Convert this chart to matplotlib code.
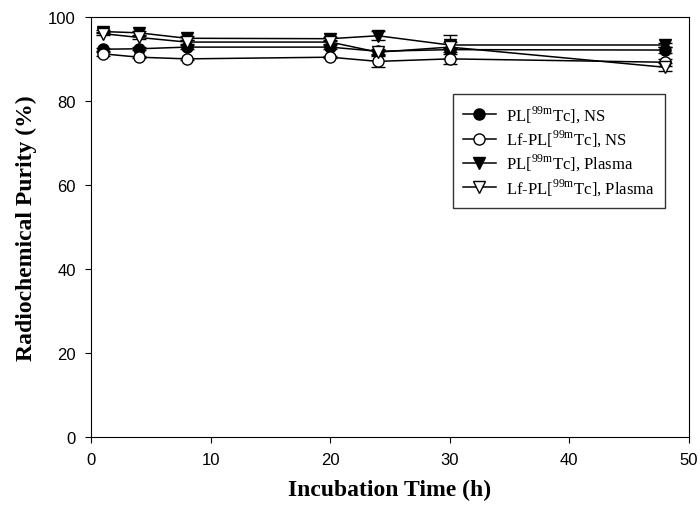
import matplotlib
matplotlib.use("Agg")
import matplotlib.pyplot as plt

plt.rcParams['mathtext.fontset'] = 'custom'
plt.rcParams['mathtext.rm'] = 'Liberation Serif'

time_h = [1, 4, 8, 20, 24, 30, 48]

pl_ns = [92.3, 92.4, 92.8, 92.8, 91.8, 92.2, 92.1]
pl_ns_err = [0.4, 0.4, 0.5, 0.4, 0.6, 0.5, 0.8]

lf_ns = [91.2, 90.4, 90.0, 90.4, 89.4, 90.0, 89.2]
lf_ns_err = [0.4, 0.3, 0.3, 0.3, 1.4, 1.2, 0.8]

pl_plasma = [96.5, 96.2, 94.9, 94.8, 95.5, 93.3, 93.3]
pl_plasma_err = [0.4, 0.4, 0.5, 0.5, 1.1, 0.6, 0.5]

lf_plasma = [96.0, 95.1, 94.0, 94.0, 91.6, 92.8, 88.0]
lf_plasma_err = [0.4, 0.4, 0.4, 0.4, 0.6, 2.9, 0.9]

labels = [r'PL[$^{\mathrm{99m}}$Tc], NS',
          r'Lf-PL[$^{\mathrm{99m}}$Tc], NS',
          r'PL[$^{\mathrm{99m}}$Tc], Plasma',
          r'Lf-PL[$^{\mathrm{99m}}$Tc], Plasma']

fig = plt.figure(figsize=(7, 5.1), dpi=100)
ax = fig.add_axes([0.13, 0.141, 0.854, 0.824])

series = [
    (pl_ns, pl_ns_err, 'o', 'black'),
    (lf_ns, lf_ns_err, 'o', 'white'),
    (pl_plasma, pl_plasma_err, 'v', 'black'),
    (lf_plasma, lf_plasma_err, 'v', 'white'),
]
handles = []
for (vals, err, mk, fc), lab in zip(series, labels):
    c = ax.errorbar(time_h, vals, yerr=err, marker=mk, markersize=8,
                    markerfacecolor=fc, markeredgecolor='black', color='black',
                    lw=1.1, elinewidth=1, capsize=5, capthick=1, label=lab)
    handles.append(c[0])

ax.set_xlim(0, 50)
ax.set_ylim(0, 100)
ax.set_xticks(range(0, 51, 10))
ax.set_yticks(range(0, 101, 20))
ax.tick_params(direction='out', length=4, pad=7)
for t in ax.get_xticklabels() + ax.get_yticklabels():
    t.set_family('Liberation Sans')
    t.set_fontsize(12)

ax.set_xlabel('Incubation Time (h)', family='Liberation Serif', fontsize=17,
              fontweight='bold', labelpad=8)
ax.set_ylabel('Radiochemical Purity (%)', family='Liberation Serif', fontsize=17,
              fontweight='bold', labelpad=8)

leg = ax.legend(handles=handles, labels=labels, loc='upper right',
                bbox_to_anchor=(0.96, 0.817), borderaxespad=0, frameon=True,
                fancybox=False, edgecolor='black', handlelength=2.0,
                prop={'family': 'Liberation Serif', 'size': 12},
                borderpad=0.6, labelspacing=0.2, handletextpad=0.6)
leg.get_frame().set_linewidth(1)

fig.savefig('out.png', dpi=100)
